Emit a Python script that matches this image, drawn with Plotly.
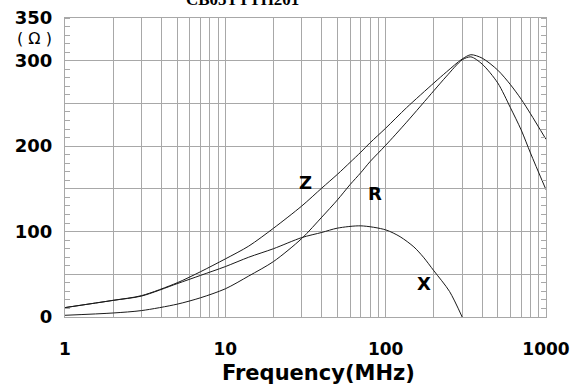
import math
import plotly.graph_objects as go

# ---- data ----
freq_zr = [1, 2, 3, 5, 7, 10, 14, 20, 30, 40, 50, 60, 70, 80, 100, 135, 200, 240, 300, 340, 400, 500, 600, 700, 800, 1000]
z_ohm = [11, 19.5, 25, 40, 53, 68, 83, 104, 130, 151, 167, 181, 193, 204, 221, 245, 274, 287, 302, 307, 303, 289, 272, 255, 238, 208]
r_ohm = [2, 4.7, 7.5, 15, 22.5, 33, 48, 65, 92, 117, 137, 155, 169, 182, 201, 228, 265, 282, 301, 304.5, 296, 274, 245, 219, 192, 149]

freq_x = [1, 2, 3, 5, 7, 10, 14, 20, 30, 40, 50, 70, 100, 123, 150, 172, 200, 250, 300]
x_ohm = [11, 19.5, 24.5, 39, 48.7, 59, 70, 80, 93, 99, 104, 106.7, 102, 94, 82, 70, 54, 30, 0]

y_tickvals = [0, 50, 100, 150, 200, 250, 300, 350]
y_ticktext = ["0", "", "100", "", "200", "", "300", "350"]
x_tickvals = [1, 10, 100, 1000]
x_ticktext = ["1", "10", "100", "1000"]

curve_labels = [("Z", 31.4, 157), ("R", 86, 145), ("X", 174, 39)]

GRID = "#a8a8a8"

fig = go.Figure()
for xs, ys in [(freq_zr, z_ohm), (freq_zr, r_ohm), (freq_x, x_ohm)]:
    fig.add_trace(go.Scatter(x=xs, y=ys, mode="lines",
                             line=dict(color="#1a1a1a", width=1, shape="spline", smoothing=0.8),
                             showlegend=False, hoverinfo="skip"))

for txt, fx, fy in curve_labels:
    fig.add_annotation(x=math.log10(fx), y=fy, text=txt, showarrow=False,
                       font=dict(family="DejaVu Sans", size=18, color="black", weight="bold"))

fig.add_annotation(xref="paper", yref="paper", x=0.526, y=0, yshift=-56, yanchor="middle",
                   text="Frequency(MHz)", showarrow=False,
                   font=dict(family="DejaVu Sans", size=21, color="black", weight="bold"))
fig.add_annotation(xref="paper", yref="paper", x=0, xshift=-11, xanchor="right", y=1, yshift=-20,
                   yanchor="middle", text="( Ω )", showarrow=False,
                   font=dict(family="DejaVu Sans", size=16, color="black"))
fig.add_annotation(xref="paper", yref="paper", x=0.37, y=1, yshift=7, yanchor="bottom",
                   text="CB05TTTH201", showarrow=False,
                   font=dict(family="Liberation Serif", size=17, color="black", weight="bold"))

fig.update_xaxes(type="log", range=[0, 3], tickvals=x_tickvals, ticktext=x_ticktext,
                 showgrid=True, gridcolor=GRID, gridwidth=1,
                 minor=dict(tickvals=[m * 10 ** d for d in range(3) for m in range(2, 10)],
                            showgrid=True, gridcolor=GRID, gridwidth=1, ticks=""),
                 showline=True, linecolor=GRID, linewidth=1, mirror=True,
                 ticks="", ticklabelstandoff=17, ticklabeloverflow="allow", automargin=False,
                 tickfont=dict(family="DejaVu Sans", size=17, color="black", weight="bold"),
                 zeroline=False)
fig.update_yaxes(range=[0, 350], tickvals=y_tickvals, ticktext=y_ticktext,
                 showgrid=True, gridcolor=GRID, gridwidth=1,
                 minor=dict(dtick=10, ticks="inside", ticklen=5, tickcolor=GRID, showgrid=False),
                 showline=True, linecolor=GRID, linewidth=1, mirror="allticks",
                 ticks="", ticklabelstandoff=8, automargin=False,
                 tickfont=dict(family="DejaVu Sans", size=18, color="black", weight="bold"),
                 zeroline=False)

fig.update_layout(width=571, height=385, margin=dict(l=65, r=25, t=18, b=68),
                  plot_bgcolor="white", paper_bgcolor="white")

fig.write_html("out.html", config={"displayModeBar": False},
               post_script="document.body.style.margin='0';")
